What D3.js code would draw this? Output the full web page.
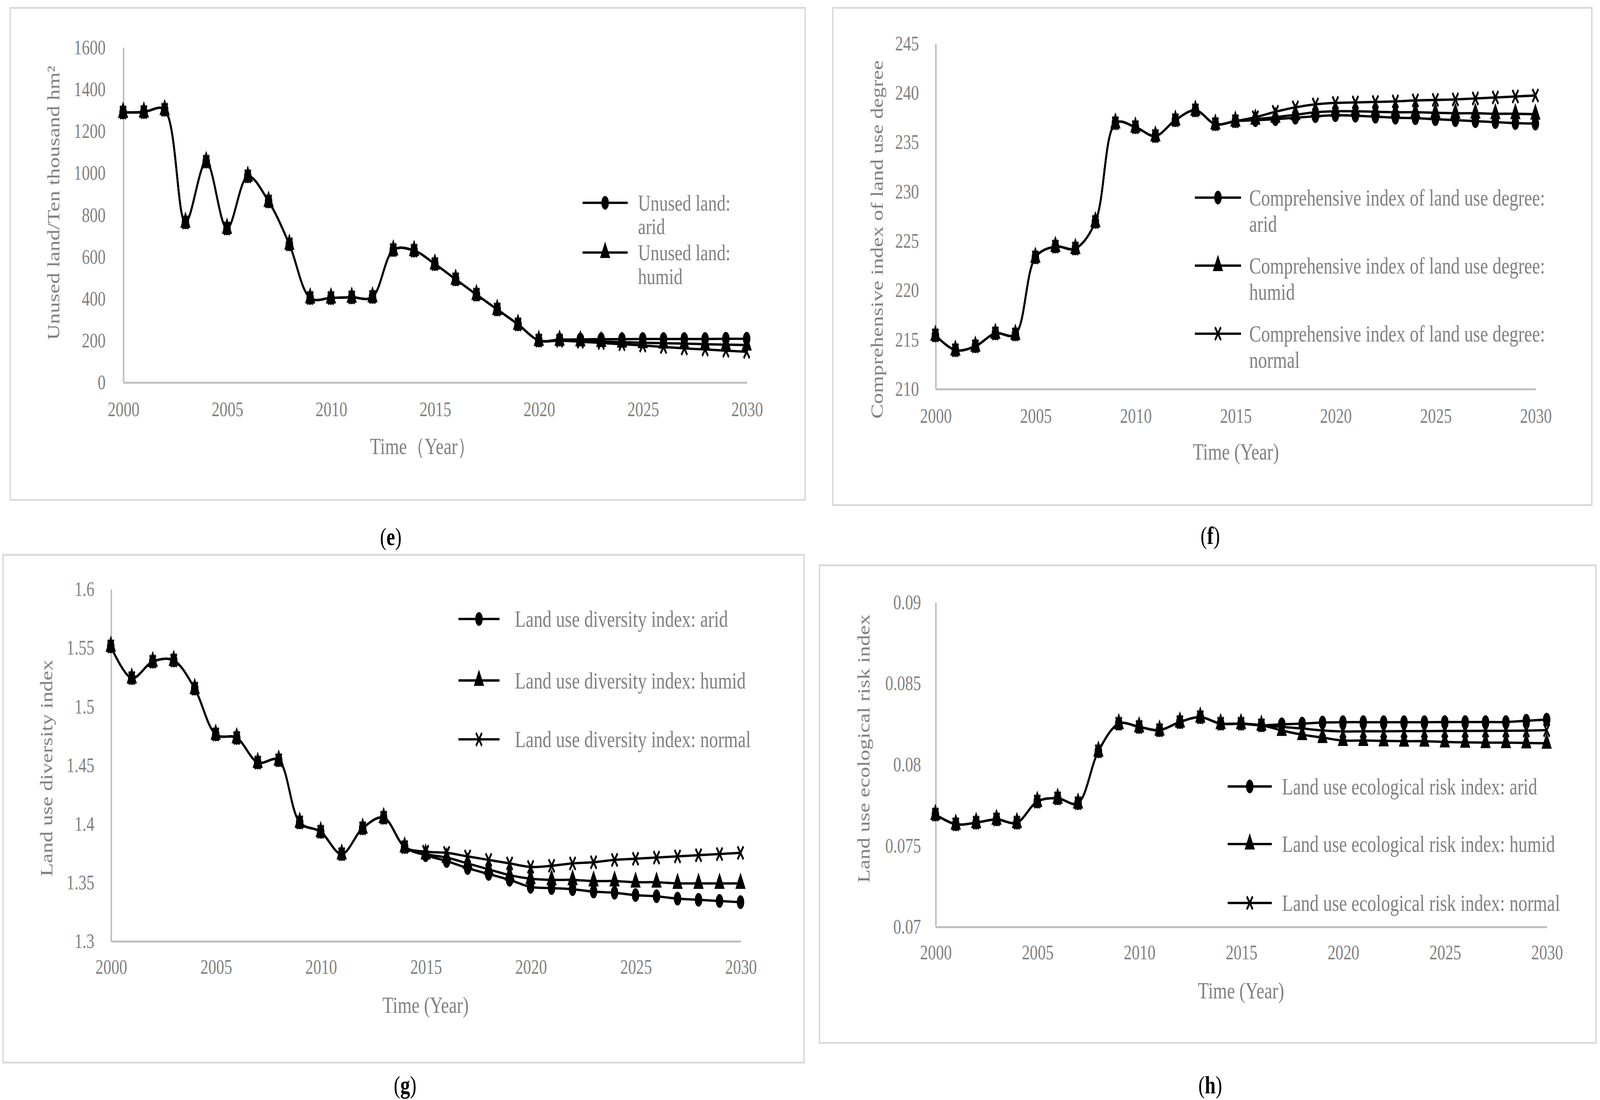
<!DOCTYPE html>
<html>
<head>
<meta charset="utf-8">
<script src="https://cdn.jsdelivr.net/npm/d3@7"></script>
<style>
  html, body { margin: 0; padding: 0; background: #fff; overflow: hidden; width: 100%; height: 100%; }
  #chart { display: block; width: 100vw; height: 100vh; }
</style>
</head>
<body>
<svg id="chart" viewBox="0 0 1560 840.6" preserveAspectRatio="none"></svg>
<script>
var years = d3.range(2000, 2031);
var xTicks = [2000, 2005, 2010, 2015, 2020, 2025, 2030];

// (e) unused land, 2000-2020 shared, 2021-2030 per scenario
var unusedHist = [1288, 1290, 1301, 763, 1053, 734, 983, 863, 658, 402, 402, 405, 407, 631, 628, 564, 491, 418, 347, 276, 199];
var unusedArid = [203, 204, 205, 205, 206, 206, 206, 206, 207, 207];
var unusedHumid = [200, 197, 194, 191, 188, 186, 184, 181, 179, 177];
var unusedNormal = [198, 193, 187, 181, 175, 168, 161, 156, 150, 145];
var unusedTicks = [0, 200, 400, 600, 800, 1000, 1200, 1400, 1600];

// (f) comprehensive index, 2000-2015 shared, 2016-2030 per scenario
var degreeHist = [215.4, 213.9, 214.3, 215.6, 215.5, 223.3, 224.4, 224.2, 226.9, 236.9, 236.5, 235.6, 237.2, 238.2, 236.8, 237.1];
var degreeArid = [237.2, 237.3, 237.45, 237.6, 237.7, 237.65, 237.55, 237.45, 237.4, 237.3, 237.2, 237.1, 237.0, 236.9, 236.85];
var degreeHumid = [237.3, 237.5, 237.75, 238.0, 238.1, 238.1, 238.05, 238.0, 238.0, 237.95, 237.9, 237.9, 237.85, 237.85, 237.8];
var degreeNormal = [237.5, 238.05, 238.5, 238.8, 238.95, 239.0, 239.05, 239.1, 239.2, 239.25, 239.3, 239.4, 239.5, 239.6, 239.7];
var degreeTicks = [210, 215, 220, 225, 230, 235, 240, 245];

// (g) diversity index, 2000-2014 shared, 2015-2030 per scenario
var diversityHist = [1.551, 1.524, 1.538, 1.539, 1.515, 1.476, 1.473, 1.452, 1.454, 1.401, 1.393, 1.374, 1.396, 1.405, 1.380];
var diversityArid = [1.373, 1.368, 1.362, 1.357, 1.352, 1.346, 1.345, 1.344, 1.342, 1.341, 1.339, 1.338, 1.336, 1.335, 1.334, 1.333];
var diversityHumid = [1.374, 1.371, 1.366, 1.361, 1.356, 1.353, 1.352, 1.352, 1.351, 1.351, 1.350, 1.350, 1.349, 1.349, 1.349, 1.349];
var diversityNormal = [1.376, 1.375, 1.372, 1.369, 1.366, 1.363, 1.364, 1.366, 1.367, 1.369, 1.370, 1.371, 1.372, 1.373, 1.374, 1.375];
var diversityTicks = [1.3, 1.35, 1.4, 1.45, 1.5, 1.55, 1.6];

// (h) ecological risk index, 2000-2016 shared, 2017-2030 per scenario
var riskHist = [0.0769, 0.0763, 0.0764, 0.0766, 0.0764, 0.0777, 0.0779, 0.0776, 0.0808, 0.0825, 0.0823, 0.0821, 0.0826, 0.0829, 0.0825, 0.0825, 0.0824];
var riskArid = [0.08246, 0.0825, 0.08257, 0.08259, 0.08259, 0.08259, 0.08259, 0.08259, 0.0826, 0.0826, 0.0826, 0.0826, 0.08268, 0.08275];
var riskHumid = [0.08208, 0.08182, 0.08164, 0.08146, 0.08146, 0.08144, 0.08142, 0.08142, 0.08137, 0.08135, 0.08133, 0.08133, 0.08131, 0.08129];
var riskNormal = [0.0823, 0.0822, 0.08208, 0.08202, 0.08203, 0.08203, 0.08204, 0.08204, 0.08205, 0.08205, 0.08206, 0.08206, 0.08207, 0.0821];
var riskTicks = [0.07, 0.075, 0.08, 0.085, 0.09];

var FONT = "'Liberation Serif', 'Times New Roman', serif";
var GREY = "#808080";
var svg = d3.select("#chart");

var markerPath = {
  circle: d3.symbol(d3.symbolCircle, 44)(),
  triangle: d3.symbol(d3.symbolTriangle, 44)(),
  cross: "M-3.2,-3.8L3.2,3.8M-3.2,3.8L3.2,-3.8"
};

function drawMarker(sel, shape, cx, cy) {
  sel.append("path")
      .attr("d", markerPath[shape])
      .attr("transform", "translate(" + cx + "," + cy + ") scale(0.9,1.3)")
      .attr("fill", shape == "cross" ? "none" : "#000")
      .attr("stroke", "#000")
      .attr("stroke-width", shape == "cross" ? 1.7 : 0.6);
}

function drawPanel(p) {
  var g = svg.append("g");

  g.append("rect")
      .attr("x", p.frame[0]).attr("y", p.frame[1])
      .attr("width", p.frame[2] - p.frame[0])
      .attr("height", p.frame[3] - p.frame[1])
      .attr("fill", "none")
      .attr("stroke", "#d9d9d9")
      .attr("stroke-width", 1.4);

  var x = d3.scaleLinear().domain([2000, 2030]).range([p.plot[0], p.plot[1]]);
  var y = d3.scaleLinear().domain(d3.extent(p.yTicks)).range([p.plot[3], p.plot[2]]);

  var ya = g.append("g")
      .attr("transform", "translate(" + p.plot[0] + ",0)")
      .call(d3.axisLeft(y).tickValues(p.yTicks).tickSize(0).tickSizeOuter(0)
        .tickPadding(p.yPad).tickFormat(function(d) { return String(+d.toFixed(4)); }));
  var xa = g.append("g")
      .attr("transform", "translate(0," + p.plot[3] + ")")
      .call(d3.axisBottom(x).tickValues(xTicks).tickSize(0).tickSizeOuter(0)
        .tickPadding(p.xPad).tickFormat(d3.format("d")));
  [ya, xa].forEach(function(a) {
    a.attr("font-family", FONT).attr("font-size", 15.5);
    a.select(".domain").attr("stroke", "#bfbfbf").attr("stroke-width", 1.5);
    a.selectAll(".tick text").attr("fill", GREY);
  });

  g.append("text")
      .attr("x", p.xTitle[0]).attr("y", p.xTitle[1]).attr("dy", "0.35em")
      .attr("text-anchor", "middle")
      .attr("font-family", FONT).attr("font-size", 17.4).attr("fill", GREY)
      .text(p.xLabel);

  g.append("text")
      .attr("transform", "translate(" + p.yTitle[0] + "," + p.yTitle[1] + ") rotate(-90)")
      .attr("dy", "0.35em")
      .attr("text-anchor", "middle")
      .attr("font-family", FONT).attr("font-size", 16.8).attr("fill", GREY)
      .text(p.yLabel);

  var line = d3.line()
      .curve(d3.curveCatmullRom.alpha(0.5))
      .x(function(d) { return x(d.year); })
      .y(function(d) { return y(d.value); });

  p.series.forEach(function(s) {
    var pts = years.map(function(yr, i) { return {year: yr, value: s.values[i]}; });
    var sg = g.append("g");
    sg.append("path")
        .attr("d", line(pts))
        .attr("fill", "none")
        .attr("stroke", "#000")
        .attr("stroke-width", 1.8);
    pts.forEach(function(d) { drawMarker(sg, s.shape, x(d.year), y(d.value)); });
  });

  // legend (long entries wrap onto a second line)
  p.legend.forEach(function(item, i) {
    var ry = p.legendRows[i];
    g.append("line")
        .attr("x1", p.legendX[0]).attr("x2", p.legendX[1])
        .attr("y1", ry).attr("y2", ry)
        .attr("stroke", "#000").attr("stroke-width", 1.8);
    drawMarker(g, item.shape, (p.legendX[0] + p.legendX[1]) / 2, ry);
    item.text.forEach(function(t, j) {
      g.append("text")
          .attr("x", p.legendX[2]).attr("y", ry + j * p.legendGap).attr("dy", "0.35em")
          .attr("font-family", FONT).attr("font-size", p.legendFont).attr("fill", GREY)
          .text(t);
    });
  });

  var cap = g.append("text")
      .attr("x", p.caption[0]).attr("y", p.caption[1]).attr("dy", "0.35em")
      .attr("text-anchor", "middle")
      .attr("font-family", FONT).attr("font-size", 19).attr("fill", "#000");
  cap.append("tspan").text("(");
  cap.append("tspan").attr("font-weight", "bold").text(p.letter);
  cap.append("tspan").text(")");
}

drawPanel({
  frame: [10, 6, 785, 382],
  plot: [120, 728, 36, 292],
  yTicks: unusedTicks, yPad: 17, xPad: 15,
  xLabel: "Time（Year）", xTitle: [412, 341],
  yLabel: "Unused land/Ten thousand hm²", yTitle: [52, 155],
  series: [
    {shape: "circle", values: unusedHist.concat(unusedArid)},
    {shape: "triangle", values: unusedHist.concat(unusedHumid)},
    {shape: "cross", values: unusedHist.concat(unusedNormal)}
  ],
  legend: [
    {shape: "circle", text: ["Unused land:", "arid"]},
    {shape: "triangle", text: ["Unused land:", "humid"]}
  ],
  legendX: [568, 612, 622], legendRows: [155, 193], legendGap: 18, legendFont: 17,
  caption: [381, 410], letter: "e"
});

drawPanel({
  frame: [812, 6, 1552, 386],
  plot: [912, 1497, 33, 297],
  yTicks: degreeTicks, yPad: 16, xPad: 15,
  xLabel: "Time (Year)", xTitle: [1205, 345],
  yLabel: "Comprehensive index of land use degree", yTitle: [855, 183],
  series: [
    {shape: "circle", values: degreeHist.concat(degreeArid)},
    {shape: "triangle", values: degreeHist.concat(degreeHumid)},
    {shape: "cross", values: degreeHist.concat(degreeNormal)}
  ],
  legend: [
    {shape: "circle", text: ["Comprehensive index of land use degree:", "arid"]},
    {shape: "triangle", text: ["Comprehensive index of land use degree:", "humid"]},
    {shape: "cross", text: ["Comprehensive index of land use degree:", "normal"]}
  ],
  legendX: [1165, 1210, 1218], legendRows: [151, 203, 255], legendGap: 20, legendFont: 17.4,
  caption: [1180, 409], letter: "f"
});

drawPanel({
  frame: [3, 424, 784, 812],
  plot: [108, 722, 450, 719],
  yTicks: diversityTicks, yPad: 16, xPad: 14,
  xLabel: "Time (Year)", xTitle: [415, 768],
  yLabel: "Land use diversity index", yTitle: [45, 587],
  series: [
    {shape: "circle", values: diversityHist.concat(diversityArid)},
    {shape: "triangle", values: diversityHist.concat(diversityHumid)},
    {shape: "cross", values: diversityHist.concat(diversityNormal)}
  ],
  legend: [
    {shape: "circle", text: ["Land use diversity index: arid"]},
    {shape: "triangle", text: ["Land use diversity index: humid"]},
    {shape: "cross", text: ["Land use diversity index: normal"]}
  ],
  legendX: [447, 487, 502], legendRows: [473, 520, 565], legendGap: 20, legendFont: 17.4,
  caption: [395, 829], letter: "g"
});

drawPanel({
  frame: [799, 432, 1556, 797],
  plot: [912, 1508, 460, 708],
  yTicks: riskTicks, yPad: 14, xPad: 14,
  xLabel: "Time (Year)", xTitle: [1210, 757],
  yLabel: "Land use ecological risk index", yTitle: [842, 572],
  series: [
    {shape: "circle", values: riskHist.concat(riskArid)},
    {shape: "triangle", values: riskHist.concat(riskHumid)},
    {shape: "cross", values: riskHist.concat(riskNormal)}
  ],
  legend: [
    {shape: "circle", text: ["Land use ecological risk index: arid"]},
    {shape: "triangle", text: ["Land use ecological risk index: humid"]},
    {shape: "cross", text: ["Land use ecological risk index: normal"]}
  ],
  legendX: [1197, 1240, 1250], legendRows: [601, 645, 690], legendGap: 20, legendFont: 17.4,
  caption: [1180, 829], letter: "h"
});
</script>
</body>
</html>
